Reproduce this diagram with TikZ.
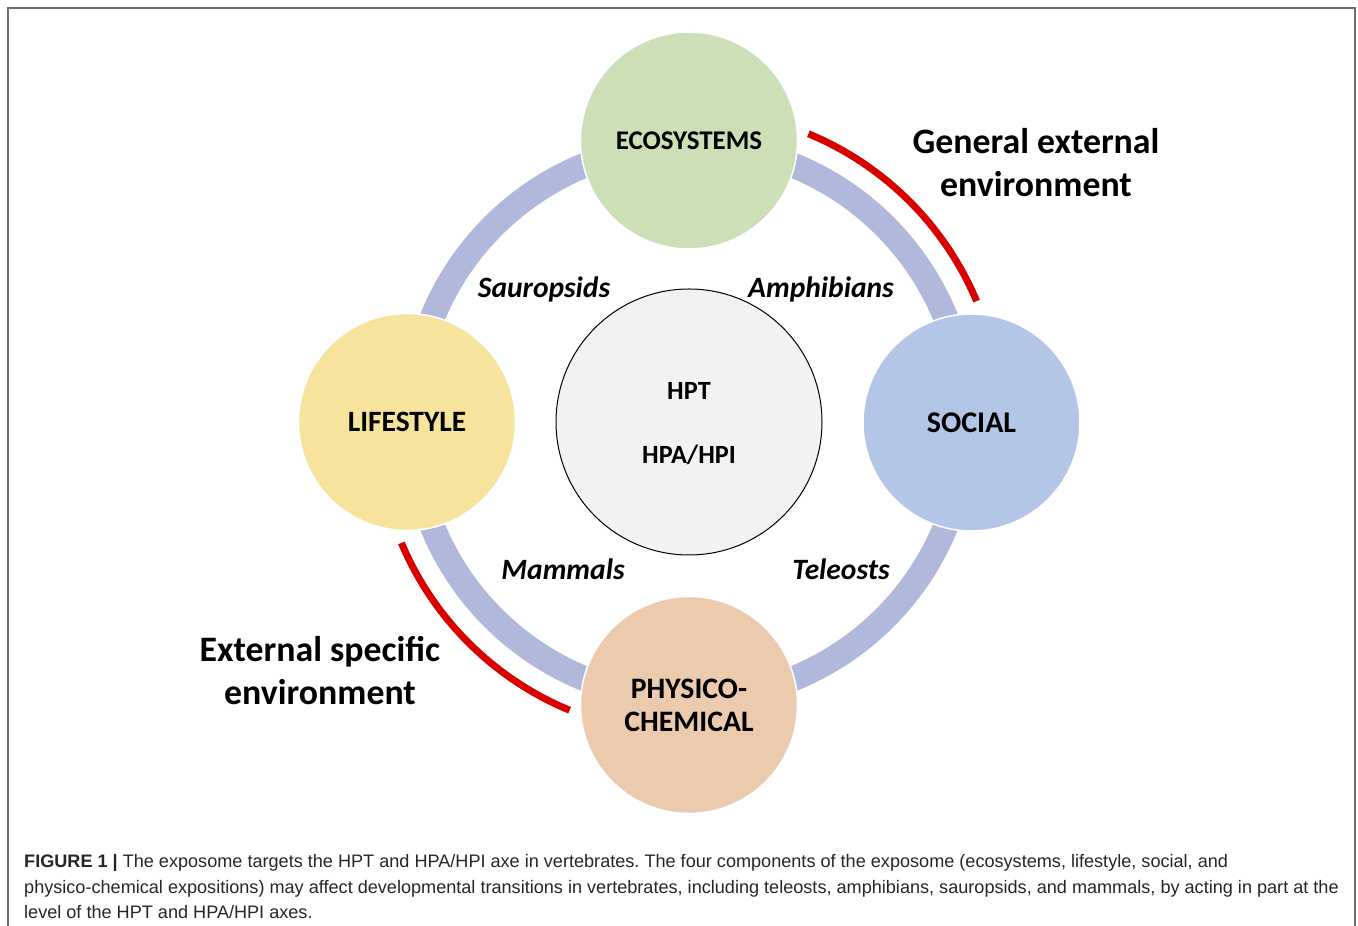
\documentclass[tikz,border=0pt]{standalone}
\usepackage{fontspec}
\setmainfont{Carlito}
\newfontfamily\capfont{Liberation Sans}
\frenchspacing
\definecolor{eco}{HTML}{CDDFB6}
\definecolor{life}{HTML}{F6E39C}
\definecolor{soc}{HTML}{B4C6E7}
\definecolor{phys}{HTML}{EBCAAE}
\definecolor{band}{HTML}{B0B9DB}
\definecolor{hub}{HTML}{F2F2F2}
\definecolor{redarc}{HTML}{D90000}
\definecolor{frame}{HTML}{6E6E6E}
\definecolor{captxt}{HTML}{262626}
\tikzset{
  expo/.style={circle, minimum size=217pt, inner sep=0pt, draw=white, line width=1.5pt, font=\bfseries\fontsize{30}{33}\selectfont, align=center},
  taxon/.style={font=\bfseries\itshape\fontsize{29.5}{32}\selectfont, inner sep=0pt},
  envlab/.style={font=\bfseries\fontsize{35.8}{43}\selectfont, align=center, inner sep=0pt},
  hublab/.style={font=\bfseries\fontsize{26.3}{28}\selectfont, inner sep=0pt},
  ringband/.style={draw=band, line width=25pt},
  redband/.style={draw=redarc, line width=7pt},
  capline/.style={anchor=base west, inner sep=0pt, text=captxt, font=\capfont\fontsize{18.1}{22}\selectfont},
}
\begin{document}
\begin{tikzpicture}[x=1pt,y=1pt]
\useasboundingbox (0,0) rectangle (1358,926);
\fill[white] (0,0) rectangle (1358,926);
% frame
\draw[frame, line width=1.3pt] (8,-5) -- (8,918) -- (1355,918) -- (1355,-5);
% centre
\coordinate (C) at (689,504);
% ring
\draw[ringband] (C) circle[radius=277];
% red arcs
\draw[redband] (C) ++(67.5:312) arc[start angle=67.5, end angle=22.8, radius=312];
\draw[redband] (C) ++(202.8:312) arc[start angle=202.8, end angle=247.5, radius=312];
% hub
\node[circle, minimum size=266pt, inner sep=0pt, fill=hub, draw=black, line width=1pt] (hub) at (C) {};
\node[hublab] (hpt) at (689,535) {HPT};
\node[hublab] (hpa) at (689,471) {HPA/HPI};
% exposome circles
\node[expo, fill=eco, font=\bfseries\fontsize{27}{30}\selectfont] (eco) at (689,785.5) {ECOSYSTEMS};
\node[expo, fill=life, font=\bfseries\fontsize{29.5}{33}\selectfont] (life) at (407,504) {LIFESTYLE};
\node[expo, fill=soc] (soc) at (971.5,503.5) {SOCIAL};
\node[expo, fill=phys, font=\bfseries\fontsize{29.7}{33}\selectfont] (phys) at (689,221) {PHYSICO-\\CHEMICAL};
% taxa
\node[taxon] (saur) at (544,637) {Sauropsids};
\node[taxon] (amph) at (821,637) {Amphibians};
\node[taxon] (mamm) at (563,357) {Mammals};
\node[taxon] (tele) at (841,357) {Teleosts};
% environment labels
\node[envlab] (gen) at (1036,763) {General external\\environment};
\node[envlab] (spec) at (320,255) {External specific\\environment};
% caption
\node[capline] (cap1) at (24,58) {\textbf{FIGURE 1 |} The exposome targets the HPT and HPA/HPI axe in vertebrates. The four components of the exposome (ecosystems, lifestyle, social, and};
\node[capline] (cap2) at (24,32.5) {physico-chemical expositions) may affect developmental transitions in vertebrates, including teleosts, amphibians, sauropsids, and mammals, by acting in part at the};
\node[capline] (cap3) at (24,7) {level of the HPT and HPA/HPI axes.};
\end{tikzpicture}
\end{document}
